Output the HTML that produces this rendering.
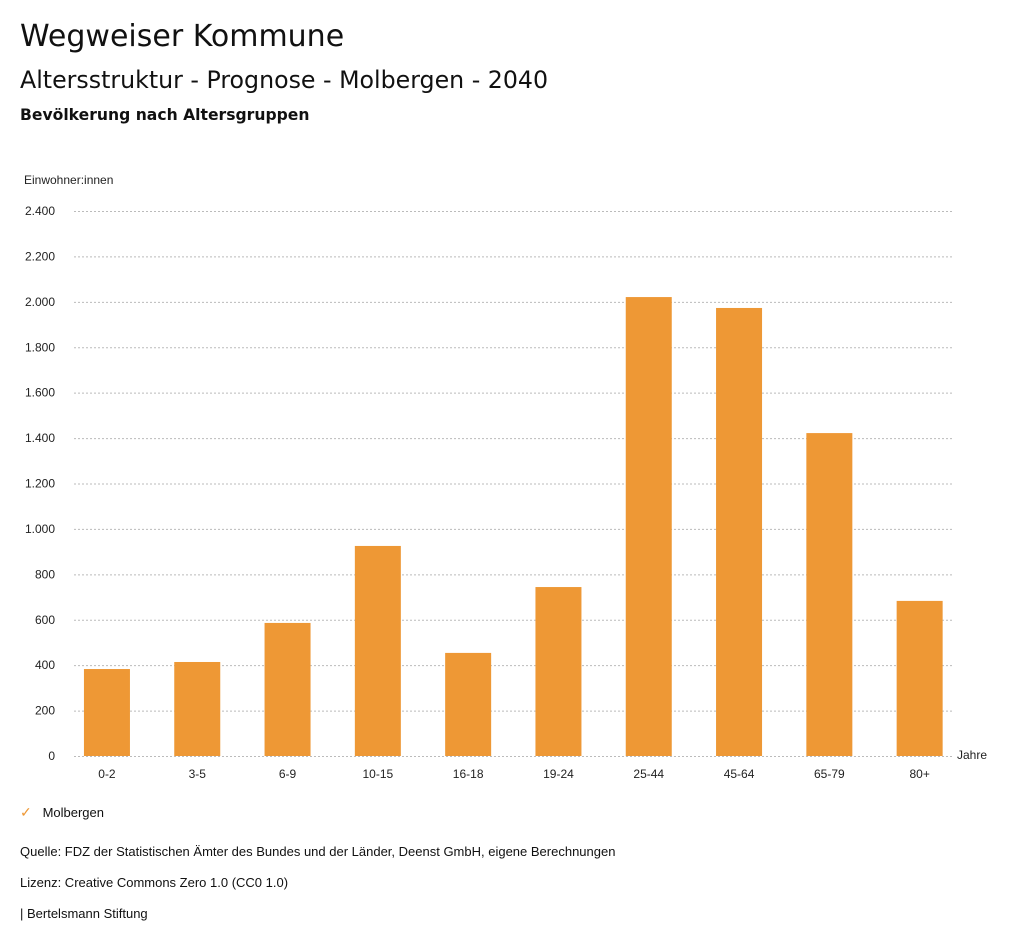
<!DOCTYPE html>
<html><head><meta charset="utf-8"><style>
body{margin:0;width:1024px;height:946px;background:#fff;font-family:"Liberation Sans",sans-serif;color:#111;overflow:hidden;position:relative}
.t{position:absolute;white-space:nowrap}
</style></head><body>
<div class="t" style="left:20px;top:19px;font-size:30px;font-family:'DejaVu Sans',sans-serif">Wegweiser Kommune</div>
<div class="t" style="left:20px;top:66px;font-size:23.7px;font-family:'DejaVu Sans',sans-serif">Altersstruktur - Prognose - Molbergen - 2040</div>
<div class="t" style="left:20px;top:106px;font-size:15.6px;font-weight:bold;font-family:'DejaVu Sans',sans-serif">Bevölkerung nach Altersgruppen</div>
<svg id="chart" width="1024" height="946" style="position:absolute;left:0;top:0" font-family="Liberation Sans, sans-serif" font-size="12"></svg>
<div class="t" style="left:20px;top:804px;font-size:13px"><span style="color:#ee9835;font-size:14px">✓</span>&nbsp;&nbsp;&nbsp;Molbergen</div>
<div class="t" style="left:20px;top:844px;font-size:13px">Quelle: FDZ der Statistischen Ämter des Bundes und der Länder, Deenst GmbH, eigene Berechnungen</div>
<div class="t" style="left:20px;top:875px;font-size:13px">Lizenz: Creative Commons Zero 1.0 (CC0 1.0)</div>
<div class="t" style="left:20px;top:906px;font-size:13px">| Bertelsmann Stiftung</div>
<script>
const categories=["0-2","3-5","6-9","10-15","16-18","19-24","25-44","45-64","65-79","80+"];
const values=[383,414,586,925,454,744,2021,1973,1422,683];
const yTicks=[0,200,400,600,800,1000,1200,1400,1600,1800,2000,2200,2400];
const yTickLabels=["0","200","400","600","800","1.000","1.200","1.400","1.600","1.800","2.000","2.200","2.400"];
const svg=document.getElementById('chart');const NS="http://www.w3.org/2000/svg";
const y0=756,yTop=211,yMax=2400,x0=61.8,band=90.3,bw=46;
const y=v=>y0-(v/yMax)*(y0-yTop);
const x=i=>x0+band*i+band/2;
function mk(tag,a){const e=document.createElementNS(NS,tag);for(const k in a)e.setAttribute(k,a[k]);svg.appendChild(e);return e;}
let t=mk('text',{x:24,y:184,fill:'#222'});t.textContent='Einwohner:innen';


yTicks.forEach((v,i)=>{
 const l=mk('line',{x1:74,x2:953,y1:y(v)+0.5,y2:y(v)+0.5,stroke:'#bbb','stroke-dasharray':'2,2'});
 
 
 const tx=mk('text',{x:55,y:y(v)+4,'text-anchor':'end',fill:'#222'});tx.textContent=yTickLabels[i];
 
 
});
categories.forEach((c,i)=>{
 const r=mk('rect',{x:x(i)-bw/2,y:y(values[i]),width:bw,height:y0-y(values[i]),fill:'#ee9835'});
 
 
 const tx=mk('text',{x:x(i),y:778,'text-anchor':'middle',fill:'#222'});tx.textContent=c;
 
 
});
t=mk('text',{x:957,y:759,fill:'#222'});t.textContent='Jahre';


</script>
</body></html>
